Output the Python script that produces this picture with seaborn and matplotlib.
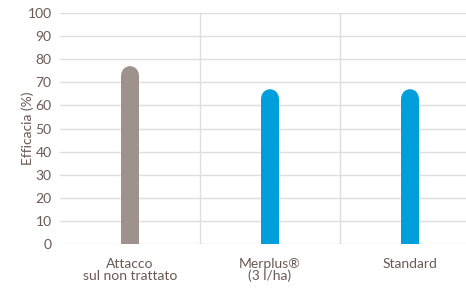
import numpy as np
import pandas as pd
import matplotlib
matplotlib.use('Agg')
import matplotlib.pyplot as plt
from matplotlib.patches import Ellipse
import seaborn as sns

categories = ['Attacco\nsul non trattato', 'Merplus®\n(3 l/ha)', 'Standard']
efficacia = [77, 67, 67]
colori = ['#9e928d', '#009fdb', '#009fdb']
y_ticks = list(range(0, 101, 10))

text_col = '#6b5953'
grid_col = '#dedede'

sns.set_style('white')
plt.rcParams['font.family'] = ['Lato', 'DejaVu Sans']

fig = plt.figure(figsize=(4.66, 2.95), dpi=100)
ax = fig.add_axes([60 / 466, 1 - 244 / 295, 406 / 466, 231 / 295])

df = pd.DataFrame({'cat': categories, 'val': efficacia})
bar_w = 0.125
# rounded cap: radius in data units (half bar width in pixels -> y units)
px_per_y = 231 / 100
px_per_x = 406 / 2.9
cap_r = (bar_w * px_per_x / 2) / px_per_y

sns.barplot(data=df, x='cat', y='val', hue='cat', palette=colori,
            width=bar_w, legend=False, ax=ax, saturation=1)
for p, v, c in zip(ax.patches, efficacia, colori):
    cx = p.get_x() + p.get_width() / 2
    p.set_x(cx - bar_w / 2)
    p.set_width(bar_w)
    p.set_height(v - cap_r)
    p.set_edgecolor('none')
    p.set_linewidth(0)
    ax.add_patch(Ellipse((cx, v - cap_r), bar_w, 2 * cap_r, lw=0,
                         facecolor=c, edgecolor='none', zorder=p.get_zorder()))

ax.set_xlim(-0.5, 2.4)
ax.set_ylim(0, 100)
ax.set_yticks(y_ticks)
ax.set_xlabel('')
ax.set_ylabel('Efficacia (%)', color=text_col, fontsize=10)
ax.yaxis.set_label_coords(-0.065, 0.5)

for y in y_ticks:
    ax.axhline(y, color=grid_col, lw=1, zorder=0)
for x in [0.5, 1.5]:
    ax.axvline(x, color=grid_col, lw=1, zorder=0)

for s in ax.spines.values():
    s.set_visible(False)
ax.tick_params(axis='both', length=0, colors=text_col, labelsize=10)
ax.tick_params(axis='x', pad=10)
ax.tick_params(axis='y', pad=6)
for lbl in ax.get_xticklabels():
    lbl.set_linespacing(1.0)

fig.savefig('out.png', dpi=100)
